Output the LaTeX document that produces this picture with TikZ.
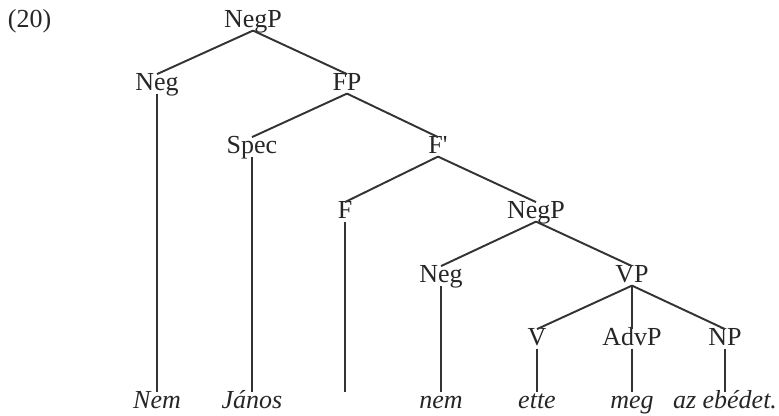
\documentclass[tikz,border=0pt]{standalone}
\usepackage{fontspec}
\setmainfont{Liberation Serif}
\usepackage{tikz}
\tikzset{every path/.style={black!80, line width=1.1pt},
  cat/.style={anchor=base, text height=0.85em, text depth=0.15em, inner sep=0pt, text=black!85},
  word/.style={cat, font=\fontsize{14.8}{18}\selectfont\itshape}}

\begin{document}
\begin{tikzpicture}[x=0.02cm,y=-0.02cm,font=\fontsize{14.8}{18}\selectfont]
   \useasboundingbox (0,0) rectangle (779,416);
   \node[anchor=base west, inner sep=0pt, text=black!85] (num) at (7,27) {(20)};
   % categories
   \node[cat] (negp)  at (253,27)  {NegP};
   \node[cat] (neg)   at (157,90)  {Neg};
   \node[cat] (fp)    at (347,90)  {FP};
   \node[cat] (spec)  at (252,153) {Spec};
   \node[cat] (fbar)  at (438,153) {F\textquotesingle};
   \node[cat] (f)     at (345,218) {F};
   \node[cat] (negpp) at (536,218) {NegP};
   \node[cat] (negg)  at (441,282) {Neg};
   \node[cat] (vp)    at (632,282) {VP};
   \node[cat] (v)     at (537,345) {V};
   \node[cat] (advp)  at (632,345) {AdvP};
   \node[cat] (np)    at (725,345) {NP};
   % words
   \node[word] (nem1)  at (157,408) {Nem};
   \node[word] (janos) at (252,408) {János};
   \node[word] (gap)   at (345,408) {};
   \node[word] (nem2)  at (441,408) {nem};
   \node[word] (ette)  at (537,408) {ette};
   \node[word] (meg)   at (632,408) {meg};
   \node[word] (ebed)  at (725,408) {az ebédet.};

   \foreach \a/\b in {negp/neg, negp/fp, fp/spec, fp/fbar, fbar/f, fbar/negpp,
                      negpp/negg, negpp/vp, vp/v, vp/advp, vp/np,
                      neg/nem1, spec/janos, f/gap, negg/nem2, v/ette, advp/meg, np/ebed}
     \draw (\a.south) -- (\b.north);
\end{tikzpicture}
\end{document}
